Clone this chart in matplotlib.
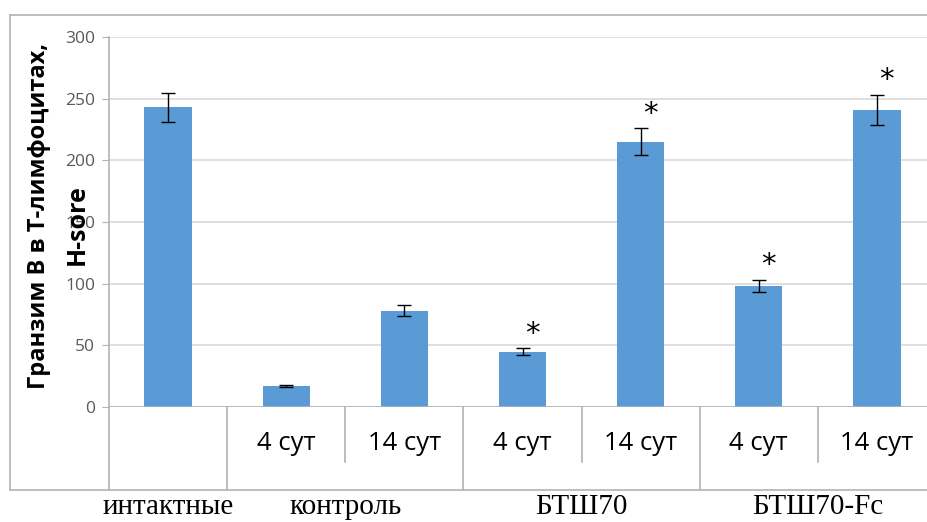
import matplotlib.pyplot as plt
from matplotlib.lines import Line2D
import matplotlib.transforms as mtransforms
import numpy as np

# Granzyme B in T lymphocytes, H-score
groups = ["интактные", "контроль", "БТШ70", "БТШ70-Fc"]
group_sizes = [1, 2, 2, 2]
days = ["", "4 сут", "14 сут", "4 сут", "14 сут", "4 сут", "14 сут"]
values = [243, 17, 78, 45, 215, 98, 241]
errors = [12, 1, 4.5, 2.5, 11, 5, 12]
stars = [False, False, False, True, True, True, True]

BAR = "#5b9bd5"
GRID = "#d9d9d9"
LINE = "#b3b3b3"

W, H = 928, 522
fig = plt.figure(figsize=(W / 100, H / 100), dpi=100)

# outer chart frame (right side runs off the page)
left, top, bottom = 10 / W, 1 - 15 / H, 1 - 490 / H
for xs, ys in [([left, 1.0], [top, top]),
               ([left, left], [bottom, top]),
               ([left, 1.0], [bottom, bottom])]:
    fig.add_artist(Line2D(xs, ys, transform=fig.transFigure,
                          color=LINE, linewidth=1.2))

ax = fig.add_axes([109 / W, 1 - 407 / H, (936 - 109) / W, 370 / H])
x = np.arange(len(values))
ax.bar(x, values, width=0.4, color=BAR, zorder=3)
ax.errorbar(x, values, yerr=errors, fmt="none", ecolor="black",
            elinewidth=1, capsize=5, capthick=1, zorder=4)

for xi, v, e, s in zip(x, values, errors, stars):
    if s:
        ax.text(xi + 0.08, v + e + 0.5, "*", ha="center", va="bottom",
                fontsize=21, family="DejaVu Sans", color="black")

ax.set_xlim(-0.5, len(values) - 0.5)
ax.set_ylim(0, 300)
ax.set_yticks(range(0, 301, 50))
ax.yaxis.grid(True, color=GRID, linewidth=1.2, zorder=0)
ax.set_xticks([])
for side in ["top", "right", "bottom"]:
    ax.spines[side].set_visible(False)
ax.spines["left"].set_color(LINE)
ax.spines["left"].set_linewidth(1.2)
ax.tick_params(axis="y", length=5, color=LINE, labelsize=12.5,
               labelcolor="#595959", pad=5)
for lbl in ax.get_yticklabels():
    lbl.set_family("Open Sans")

ax.axhline(0, color=LINE, linewidth=1.2, zorder=5)

# two-level category axis below the plot
trans = mtransforms.blended_transform_factory(ax.transData, ax.transAxes)
short_y = (407 - 462) / 370
long_y = (407 - 490) / 370
ax.plot([-0.5, -0.5], [0, long_y], transform=trans, color=LINE,
        linewidth=1.2, clip_on=False)
start = 0
for name, n in zip(groups, group_sizes):
    end = start + n
    ax.plot([end - 0.5, end - 0.5], [0, long_y], transform=trans,
            color=LINE, linewidth=1.2, clip_on=False)
    for k in range(start + 1, end):
        ax.plot([k - 0.5, k - 0.5], [0, short_y], transform=trans,
                color=LINE, linewidth=1.2, clip_on=False)
    ax.text((start + end - 1) / 2, (407 - 507) / 370, name, transform=trans,
            ha="center", va="center", fontsize=21,
            family="Liberation Serif", color="black")
    start = end

for xi, d in zip(x, days):
    if d:
        ax.text(xi, (407 - 444) / 370, d, transform=trans, ha="center",
                va="center", fontsize=18.5, family="Open Sans", color="black")

fig.text(39 / W, 1 - 216 / H, "Гранзим В в Т-лимфоцитах,", rotation=90,
         ha="center", va="center", fontsize=17, fontweight="bold",
         family="Open Sans")
fig.text(77 / W, 1 - 225 / H, "H-sore", rotation=90,
         ha="center", va="center", fontsize=18, fontweight="bold",
         family="Open Sans")

fig.savefig("out.png", dpi=100)
